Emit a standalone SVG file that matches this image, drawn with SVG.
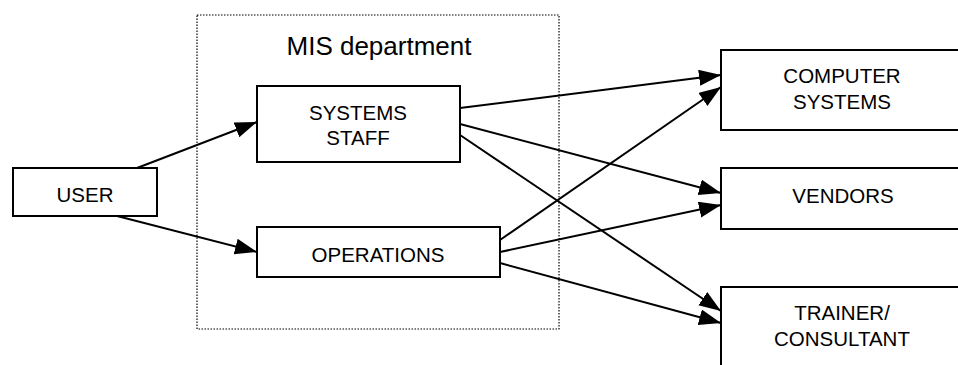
<svg xmlns="http://www.w3.org/2000/svg" width="958" height="365" viewBox="0 0 958 365">
<style>
.box{fill:#fff;stroke:#000;stroke-width:2}
.lbl{font-family:"Liberation Sans",Arial,sans-serif;font-size:20.5px;fill:#000;text-anchor:middle}
.ttl{font-family:"Liberation Sans",Arial,sans-serif;font-size:26px;fill:#000;text-anchor:middle}
.con{fill:none;stroke:#000;stroke-width:2;marker-end:url(#ah)}
.grp{fill:none;stroke:#000;stroke-width:1.2;stroke-dasharray:1.5 1.5}
</style>
<defs>
<marker id="ah" markerUnits="userSpaceOnUse" markerWidth="24" markerHeight="18" refX="22" refY="8" orient="auto">
<path d="M0,0 L22,8 L0,16 z" fill="#000"/>
</marker>
</defs>
<rect fill="#fff" width="958" height="365"/>
<g id="mis-group">
<rect class="grp" x="197" y="15" width="362" height="314"/>
<text class="ttl" x="379" y="55">MIS department</text>
</g>
<g id="connectors">
<line class="con" x1="137" y1="168" x2="257" y2="122"/>
<line class="con" x1="117" y1="216" x2="257" y2="252"/>
<line class="con" x1="460" y1="108" x2="721" y2="75"/>
<line class="con" x1="460" y1="124" x2="721" y2="193"/>
<line class="con" x1="460" y1="135" x2="721" y2="311"/>
<line class="con" x1="500" y1="240" x2="721" y2="87"/>
<line class="con" x1="500" y1="252" x2="721" y2="205"/>
<line class="con" x1="500" y1="263" x2="721" y2="323"/>
</g>
<g id="user">
<rect class="box" x="13" y="168" width="144" height="48"/>
<text class="lbl" x="85" y="202">USER</text>
</g>
<g id="systems-staff">
<rect class="box" x="257" y="86" width="203" height="76"/>
<text class="lbl" x="358" y="120">SYSTEMS</text>
<text class="lbl" x="358" y="145">STAFF</text>
</g>
<g id="operations">
<rect class="box" x="257" y="227" width="243" height="50"/>
<text class="lbl" x="378" y="262">OPERATIONS</text>
</g>
<g id="computer-systems">
<rect class="box" x="721" y="50" width="250" height="80"/>
<text class="lbl" x="842" y="83">COMPUTER</text>
<text class="lbl" x="842" y="109">SYSTEMS</text>
</g>
<g id="vendors">
<rect class="box" x="721" y="168" width="250" height="61"/>
<text class="lbl" x="843" y="203">VENDORS</text>
</g>
<g id="trainer-consultant">
<rect class="box" x="721" y="287" width="250" height="100"/>
<text class="lbl" x="842" y="320">TRAINER/</text>
<text class="lbl" x="842" y="346">CONSULTANT</text>
</g>
</svg>
